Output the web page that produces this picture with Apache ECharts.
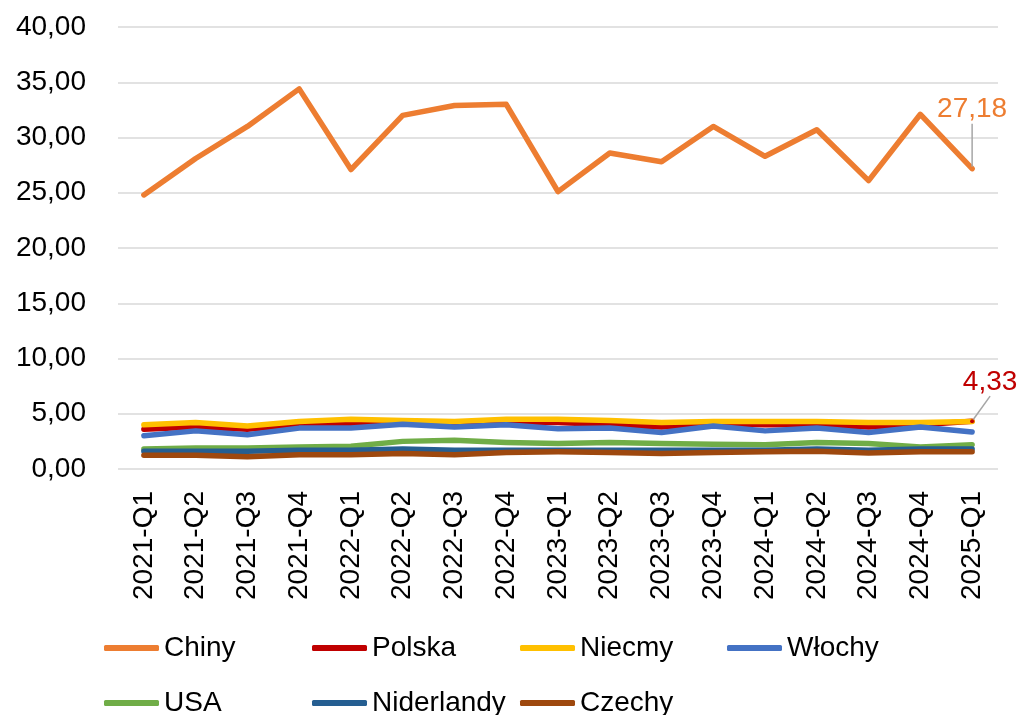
<!DOCTYPE html>
<html>
<head>
<meta charset="utf-8">
<script src="https://cdn.jsdelivr.net/npm/echarts@6/dist/echarts.min.js"></script>
<style>
  html, body { margin: 0; padding: 0; background: #fff; }
  #chart { width: 1022px; height: 715px; }
</style>
</head>
<body>
<div id="chart"></div>
<script>
const quarters = ["2021-Q1", "2021-Q2", "2021-Q3", "2021-Q4", "2022-Q1", "2022-Q2", "2022-Q3", "2022-Q4",
  "2023-Q1", "2023-Q2", "2023-Q3", "2023-Q4", "2024-Q1", "2024-Q2", "2024-Q3", "2024-Q4", "2025-Q1"];

const chiny = [24.8, 28.1, 31.0, 34.4, 27.1, 32.0, 32.9, 33.0, 25.1, 28.6, 27.8, 31.0, 28.3, 30.7, 26.1, 32.1, 27.18];
const polska = [3.6, 3.8, 3.6, 4.0, 4.1, 4.2, 4.1, 4.2, 4.2, 4.0, 3.8, 4.1, 4.0, 4.0, 3.8, 4.0, 4.33];
const niecmy = [4.0, 4.2, 3.9, 4.3, 4.5, 4.4, 4.3, 4.5, 4.5, 4.4, 4.2, 4.3, 4.3, 4.3, 4.2, 4.2, 4.3];
const wlochy = [3.0, 3.45, 3.1, 3.7, 3.7, 4.05, 3.8, 4.0, 3.65, 3.7, 3.3, 3.9, 3.45, 3.7, 3.3, 3.8, 3.35];
const usa = [1.8, 1.9, 1.9, 2.0, 2.05, 2.5, 2.6, 2.4, 2.3, 2.4, 2.3, 2.25, 2.2, 2.4, 2.3, 2.0, 2.2];
const niderlandy = [1.6, 1.6, 1.6, 1.7, 1.7, 1.8, 1.7, 1.7, 1.7, 1.7, 1.7, 1.7, 1.7, 1.8, 1.7, 1.8, 1.8];
const czechy = [1.25, 1.25, 1.1, 1.3, 1.3, 1.4, 1.3, 1.5, 1.55, 1.5, 1.4, 1.5, 1.55, 1.6, 1.45, 1.55, 1.55];

const names = ["Chiny", "Polska", "Niecmy", "Włochy", "USA", "Niderlandy", "Czechy"];
const legendLeft = [104, 312, 520, 727, 104, 312, 520];
const legendTop = [634, 634, 634, 634, 689, 689, 689];

const FONT = "'Liberation Sans', Arial, sans-serif";
const fmt = v => v.toFixed(2).replace(".", ",");

// only the last point carries a label with a guide line
function withEndLabel(values, color) {
  return values.map((v, i) => {
    if (i !== values.length - 1) return v;
    return {
      value: v,
      symbol: "circle",
      symbolSize: 4,
      label: {
        show: true,
        color: color,
        fontSize: 28,
        fontFamily: FONT,
        formatter: p => fmt(p.value)
      },
      labelLine: { show: true, lineStyle: { color: "#a6a6a6", width: 1.5 } }
    };
  });
}

function line(name, color, data, labelColor, dx, dy) {
  const s = {
    name: name,
    type: "line",
    symbol: "none",
    lineStyle: { color: color, width: 5.5, cap: "round", join: "round" },
    itemStyle: { color: color },
    data: labelColor ? withEndLabel(data, labelColor) : data
  };
  if (labelColor) s.labelLayout = { dx: dx, dy: dy };
  return s;
}

const chart = echarts.init(document.getElementById("chart"));

const legends = names.map((n, i) => ({
  left: legendLeft[i],
  top: legendTop[i],
  padding: 0,
  itemWidth: 55,
  itemHeight: 6,
  icon: "roundRect",
  textStyle: { fontSize: 28, fontFamily: FONT, color: "#000" },
  data: [n]
}));

chart.setOption({
  animation: false,
  grid: { left: 118, right: 24, top: 27, bottom: 246 },
  legend: legends,
  xAxis: {
    type: "category",
    data: quarters,
    boundaryGap: true,
    axisLine: { show: false },
    axisTick: { show: false },
    axisLabel: { rotate: 90, fontSize: 28, fontFamily: FONT, color: "#000", margin: 22, interval: 0 }
  },
  yAxis: {
    type: "value",
    min: 0,
    max: 40,
    interval: 5,
    axisLine: { show: false },
    axisTick: { show: false },
    axisLabel: { fontSize: 28, fontFamily: FONT, color: "#000", margin: 32, formatter: fmt },
    splitLine: { lineStyle: { color: "#d9d9d9", width: 1.5 } }
  },
  series: [
    line("Chiny", "#ED7D31", chiny, "#ED7D31", 0, -38),
    line("Polska", "#C00000", polska, "#C00000", 18, -18),
    line("Niecmy", "#FFC000", niecmy),
    line("Włochy", "#4472C4", wlochy),
    line("USA", "#70AD47", usa),
    line("Niderlandy", "#255E91", niderlandy),
    line("Czechy", "#9E480E", czechy)
  ]
});
</script>
</body>
</html>
